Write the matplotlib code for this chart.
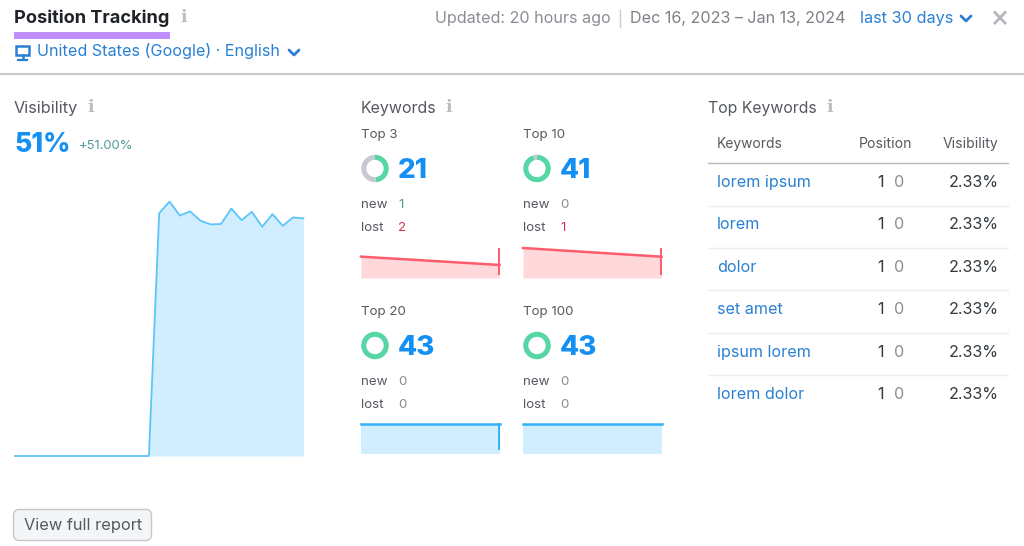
import matplotlib
matplotlib.use("Agg")
import matplotlib.pyplot as plt
from matplotlib.patches import FancyBboxPatch, Rectangle

plt.rcParams['font.family'] = ['Inter', 'DejaVu Sans']

W, H = 1024, 546
BLUE = '#2a80d2'
BIG = '#1490f5'
DARK = '#333a40'
MID = '#55595f'
GREY = '#8a8e94'

# ---- data
vis_values = [0]*14 + [52.1, 54.6, 51.6, 52.5, 50.5, 49.7, 49.8, 53.1, 50.6, 52.4, 49.2, 51.9, 49.4, 51.2, 51.0]
panel_names = ['Top 3', 'Top 10', 'Top 20', 'Top 100']
panel_counts = [21, 41, 43, 43]
panel_total = 43
panel_new = [1, 0, 0, 0]
panel_lost = [2, 1, 0, 0]
spark_series = [[22, 21], [42, 41], [43, 43], [43, 43]]
keywords = ['lorem ipsum', 'lorem', 'dolor', 'set amet', 'ipsum lorem', 'lorem dolor']
kw_position = [1, 1, 1, 1, 1, 1]
kw_change = [0, 0, 0, 0, 0, 0]
kw_visibility = ['2.33%'] * 6

fig = plt.figure(figsize=(W/100, H/100), dpi=100, facecolor='white')
bg = fig.add_axes([0, 0, 1, 1])
bg.set_xlim(0, W)
bg.set_ylim(H, 0)
bg.axis('off')


def px_axes(x0, y0, x1, y1, **kw):
    ax = fig.add_axes([x0/W, 1-y1/H, (x1-x0)/W, (y1-y0)/H], **kw)
    ax.axis('off')
    ax.patch.set_alpha(0)
    return ax


def T(x, y, s, size=11, color=DARK, weight='normal', ha='left'):
    return bg.text(x, y + 0.8, s, fontsize=size, color=color, fontweight=weight, ha=ha, va='center')


def info(x, y):
    bg.text(x, y, 'i', fontsize=12.5, color='#b9bcc3', fontweight='bold', family='DejaVu Serif', ha='center', va='center')


def chevron(x, y, c=BLUE):
    bg.plot([x-5, x, x+5], [y-2.5, y+2.5, y-2.5], color=c, lw=2, solid_capstyle='round', solid_joinstyle='round')


# ---- header
T(14, 17, 'Position Tracking', 13.1, '#1f2328', 'bold')
info(184, 17)
bg.add_patch(Rectangle((14, 32), 156, 7, fc='#bf8dff', ec='none'))
# monitor icon
bg.add_patch(Rectangle((16, 45.5), 13, 9.5, fc='none', ec=BLUE, lw=1.8))
bg.plot([22.5, 22.5], [55, 59], color=BLUE, lw=1.8)
bg.plot([18, 27], [59.5, 59.5], color=BLUE, lw=1.6)
T(37, 50.5, 'United States (Google) · English', 11.65, BLUE)
chevron(294, 52.5)
bg.plot([0, W], [73.5, 73.5], color='#c9cbce', lw=1.5)

T(435, 17.5, 'Updated: 20 hours ago', 11.6, GREY)
bg.plot([620, 620], [10, 27], color='#c9cbce', lw=1)
T(630, 17.5, 'Dec 16, 2023 – Jan 13, 2024', 11.6, '#7d8187')
T(860, 17.5, 'last 30 days', 11.7, BLUE)
chevron(966, 18.5)
bg.plot([995, 1005], [12.5, 23], color='#b3b6bc', lw=2)
bg.plot([995, 1005], [23, 12.5], color='#b3b6bc', lw=2)

# ---- visibility
T(14, 108, 'Visibility', 11.7, MID)
info(91, 108)
T(14, 144, '51%', 19.2, BIG, 'heavy')
T(79, 145.5, '+51.00%', 9.4, '#4f9a94')

vis = px_axes(15, 190, 303.4, 456)
vis.fill_between(range(len(vis_values)), vis_values, 0, color='#d1eeff', lw=0)
vis.plot(range(len(vis_values)), vis_values, color='#5cc4fb', lw=1.3, clip_on=False)
vis.set_xlim(0, len(vis_values)-1)
vis.set_ylim(0, 266/4.66)

# ---- keywords
T(361, 108, 'Keywords', 11.5, MID)
info(449, 108)

columns = [361, 523]
rows = [134, 311]
spark_tops = [248, 240, 414, 414]
spark_bottoms = [278, 278, 454, 454]
spark_ylims = [(19.43, 23.04), (38.55, 42.92), (40, 44), (40, 44)]
for i, name in enumerate(panel_names):
    x = columns[i % 2]
    y = rows[i // 2]
    T(x, y, name, 9.6, MID)
    d = px_axes(x, y+20.5, x+28, y+48.5)
    grey_part = panel_total - panel_counts[i]
    d.pie([panel_counts[i], grey_part], colors=['#55d6a4', '#c6c9d0'], startangle=90, counterclock=False,
          radius=1.0, wedgeprops=dict(width=0.37, lw=0), )
    d.set_xlim(-1.02, 1.02)
    d.set_ylim(-1.02, 1.02)
    T(x+37, y+36.5, str(panel_counts[i]), 20, BIG, 'heavy')
    T(x, y+70, 'new', 9.6, MID)
    T(x, y+93.5, 'lost', 9.6, MID)
    nv, lv = panel_new[i], panel_lost[i]
    T(x+37, y+70, str(nv), 9.6, '#4f9a94' if nv else GREY)
    T(x+37, y+93.5, str(lv), 9.6, '#d2344f' if lv else GREY)

    red = spark_series[i][-1] < spark_series[i][0]
    line_c = '#ff5c6c' if red else '#35b0fb'
    fill_c = '#ffd8dc' if red else '#d1eeff'
    s = px_axes(x, spark_tops[i], x+138.5, spark_bottoms[i])
    xs = range(len(spark_series[i]))
    lo, hi = spark_ylims[i]
    s.fill_between(xs, spark_series[i], lo, color=fill_c, lw=0)
    s.plot(xs, spark_series[i], color=line_c, lw=1.8, clip_on=False)
    s.set_xlim(0, 1)
    s.set_ylim(lo, hi)
    if i < 2:
        s.plot([137.5/138.5]*2, [lo + (278-273.5)/(278-spark_tops[i])*(hi-lo), lo + (278-249)/(278-spark_tops[i])*(hi-lo)],
               color=line_c, lw=1.4, zorder=5)
    elif i == 2:
        s.plot([137.5/138.5]*2, [lo + (454-449)/40*(hi-lo), spark_series[i][-1]], color=line_c, lw=1.4, zorder=5)

# ---- top keywords table
T(708, 108, 'Top Keywords', 11.4, MID)
info(830, 108)
T(717, 143, 'Keywords', 9.95, MID)
T(912, 143, 'Position', 10.1, MID, ha='right')
T(998, 143, 'Visibility', 10.1, MID, ha='right')
bg.plot([708, 1008], [162.5, 162.5], color='#b9bbc0', lw=1)
row_y = [181.5, 224, 266.5, 309, 351.5, 393.5]
sep_y = [205.5, 247.5, 289.5, 332.5, 374.5]
for j, kw in enumerate(keywords):
    yy = row_y[j]
    T(717, yy, kw, 11.6, BLUE)
    T(884, yy, str(kw_position[j]), 11.6, DARK, ha='right')
    T(904, yy, str(kw_change[j]), 11.6, GREY, ha='right')
    T(999, yy, kw_visibility[j], 11.6, DARK, ha='right')
for yy in sep_y:
    bg.plot([708, 1008], [yy, yy], color='#eceef0', lw=1)

# ---- button
bg.add_patch(FancyBboxPatch((13.5, 509.5), 138, 31, boxstyle='round,pad=0,rounding_size=6', fc='#f4f5f6', ec='#c4c7cc', lw=1))
T(24, 524.5, 'View full report', 11.8, MID)

fig.savefig('out.png', dpi=100, facecolor='white')
